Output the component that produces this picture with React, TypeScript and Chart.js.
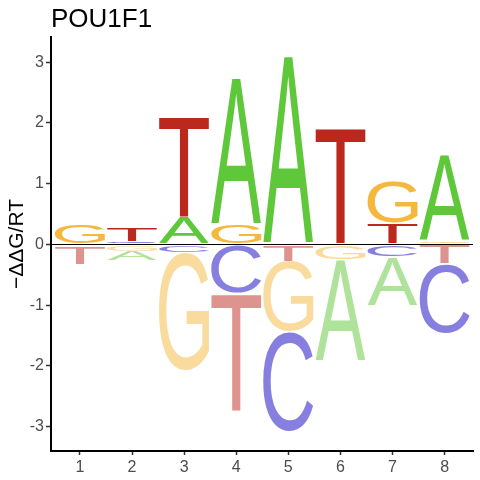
import React, { useEffect, useRef } from 'react';
import { Chart, registerables } from 'chart.js';

Chart.register(...registerables);

// motif positions and the four bases
const positions = [1, 2, 3, 4, 5, 6, 7, 8];
const letters = ['A', 'C', 'G', 'T'];
// -ddG/RT per base, per position
const valuesA = [-0.01, -0.16, 0.45, 2.41, 3.10, -1.67, -0.81, 1.42];
const valuesC = [-0.02, 0.05, -0.13, -0.81, -1.65, -0.01, -0.20, -1.15];
const valuesG = [0.33, -0.11, -1.94, 0.33, -1.16, -0.24, 0.68, 0.05];
const valuesT = [-0.30, 0.22, 1.64, -1.92, -0.28, 1.92, 0.35, -0.31];
const yTicks = [-3, -2, -1, 0, 1, 2, 3];

const letterColors = ['rgb(95,200,58)', 'rgb(15,0,192)', 'rgb(245,183,61)', 'rgb(188,40,30)'];
const FONT = '"Liberation Sans", Arial, sans-serif';

const allValues = [valuesA, valuesC, valuesG, valuesT];

// stack letters: smallest magnitude next to zero, biggest outside
function stackRanges(): number[][][] {
    const ranges = letters.map(() => positions.map(() => [0, 0]));
    positions.forEach((_, i) => {
        const order = letters.map((_, k) => k)
            .sort((a, b) => Math.abs(allValues[a][i]) - Math.abs(allValues[b][i]));
        let up = 0;
        let down = 0;
        order.forEach(k => {
            const v = allValues[k][i];
            if (v >= 0) { ranges[k][i] = [up, up + v]; up += v; }
            else { ranges[k][i] = [down + v, down]; down += v; }
        });
    });
    return ranges;
}

function drawGlyph(ctx: CanvasRenderingContext2D, ch: string, left: number, top: number,
                   w: number, h: number, color: string, alpha: number) {
    ctx.save();
    ctx.font = '200px ' + FONT;
    ctx.textAlign = 'left';
    ctx.textBaseline = 'alphabetic';
    const m = ctx.measureText(ch);
    const gw = m.actualBoundingBoxLeft + m.actualBoundingBoxRight;
    const gh = m.actualBoundingBoxAscent + m.actualBoundingBoxDescent;
    ctx.translate(left, top);
    ctx.scale(w / gw, h / gh);
    ctx.globalAlpha = alpha;
    ctx.fillStyle = color;
    ctx.fillText(ch, m.actualBoundingBoxLeft, m.actualBoundingBoxAscent);
    ctx.restore();
}

const logoPlugin = {
    id: 'logoLetters',
    afterDatasetsDraw(chart: any) {
        const ctx = chart.ctx;
        chart.data.datasets.forEach((_: any, k: number) => {
            const meta = chart.getDatasetMeta(k);
            meta.data.forEach((bar: any, i: number) => {
                const { x, y, base, width } = bar.getProps(['x', 'y', 'base', 'width'], true);
                const top = Math.min(y, base) + 0.5;
                const bottom = Math.max(y, base) - 0.5;
                const h = bottom - top;
                if (h <= 0.2) return;
                const neg = allValues[k][i] < 0;
                drawGlyph(ctx, letters[k], x - width / 2, top, width, h, letterColors[k], neg ? 0.5 : 1);
            });
        });
    },
    afterDraw(chart: any) {
        const ctx = chart.ctx;
        ctx.save();
        ctx.font = '26px ' + FONT;
        ctx.fillStyle = '#000';
        ctx.textAlign = 'left';
        ctx.textBaseline = 'alphabetic';
        ctx.fillText('POU1F1', chart.chartArea.left, 27);
        ctx.restore();
    }
};

const App: React.FC = () => {
    const chartRef = useRef<HTMLCanvasElement>(null);
    const chartInstanceRef = useRef<Chart | null>(null);

    useEffect(() => {
        if (!chartRef.current) return;
        if (chartInstanceRef.current) chartInstanceRef.current.destroy();
        const ranges = stackRanges();

        chartInstanceRef.current = new Chart(chartRef.current, {
            type: 'bar',
            data: {
                datasets: letters.map((l, k) => ({
                    label: l,
                    data: positions.map((p, i) => ({ x: p, y: ranges[k][i] })),
                    backgroundColor: 'rgba(0,0,0,0)',
                    borderWidth: 0,
                    grouped: false,
                    barPercentage: 0.96,
                    categoryPercentage: 1,
                })) as any,
            },
            options: {
                animation: false,
                responsive: true,
                maintainAspectRatio: false,
                layout: { padding: { top: 37, right: 7, left: 0, bottom: 0 } },
                plugins: { legend: { display: false }, tooltip: { enabled: false } },
                scales: {
                    x: {
                        type: 'linear',
                        min: 0.445,
                        max: 8.545,
                        offset: false,
                        afterBuildTicks: (s: any) => { s.ticks = positions.map(v => ({ value: v })); },
                        afterFit: (s: any) => { s.height = 29; },
                        grid: { drawOnChartArea: false, offset: false, tickLength: 4, tickColor: '#333333', tickWidth: 1.5 },
                        border: { color: '#000', width: 2 },
                        ticks: { color: '#4D4D4D', font: { size: 16, family: FONT }, padding: 3, maxRotation: 0 },
                    },
                    y: {
                        type: 'linear',
                        min: -3.40,
                        max: 3.415,
                        afterBuildTicks: (s: any) => { s.ticks = yTicks.map(v => ({ value: v })); },
                        afterFit: (s: any) => { s.width = 51; },
                        grid: {
                            drawOnChartArea: true,
                            color: (c: any) => (c.tick && c.tick.value === 0 ? '#000' : 'rgba(0,0,0,0)'),
                            lineWidth: 1,
                            tickLength: 5,
                            tickColor: '#333333',
                            tickWidth: 1.5,
                        },
                        border: { color: '#000', width: 2 },
                        ticks: { color: '#4D4D4D', font: { size: 16, family: FONT }, padding: 2 },
                        title: {
                            display: true,
                            text: '\u2212\u0394\u0394G/RT',
                            color: '#000',
                            font: { size: 21, family: FONT },
                            padding: { top: 5, bottom: 0 },
                        },
                    },
                },
            } as any,
            plugins: [logoPlugin],
        });

        return () => {
            if (chartInstanceRef.current) {
                chartInstanceRef.current.destroy();
                chartInstanceRef.current = null;
            }
        };
    }, []);

    return (
        <div style={{ position: 'absolute', left: 0, top: 0, width: 480, height: 480, background: '#fff' }}>
            <canvas ref={chartRef}></canvas>
        </div>
    );
};

export default App;
